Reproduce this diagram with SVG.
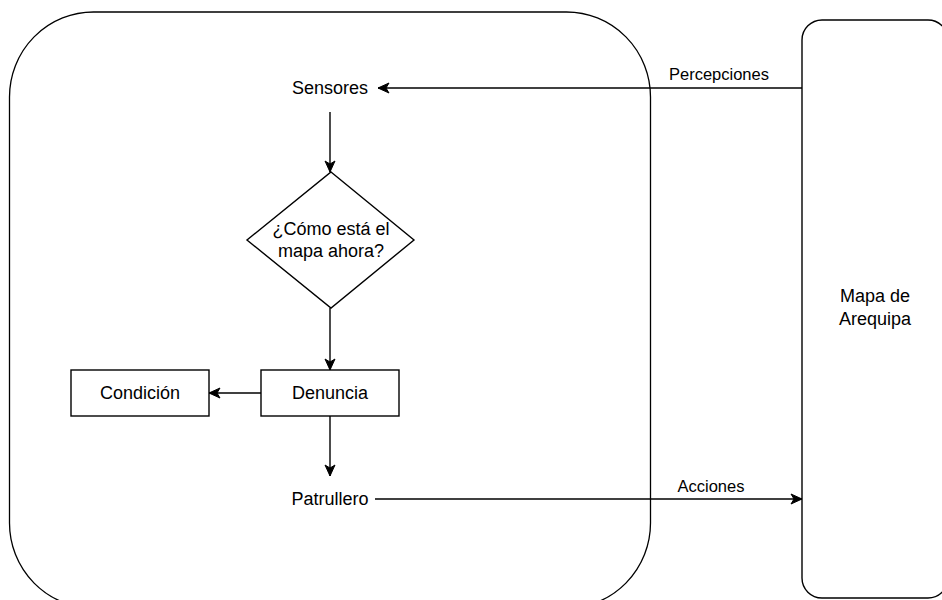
<svg xmlns="http://www.w3.org/2000/svg" width="942" height="600" viewBox="0 0 942 600">
<style>
.shape{fill:#fff;stroke:#000;stroke-width:1.4}
.frame{fill:none;stroke:#000;stroke-width:1.3}
.edge{fill:none;stroke:#000;stroke-width:1.4}
.t{font-family:"Liberation Sans",Arial,sans-serif;font-size:18px;fill:#000;text-anchor:middle}
.lbl{font-family:"Liberation Sans",Arial,sans-serif;font-size:16.5px;fill:#000;text-anchor:middle}
</style>
<defs>
<marker id="arr" markerUnits="userSpaceOnUse" markerWidth="14" markerHeight="14" viewBox="-12 -7 14 14" refX="0" refY="0" orient="auto">
<path d="M0,0 L-11,-5 L-8,0 L-11,5 Z" fill="#000" stroke="#000" stroke-width="1"/>
</marker>
</defs>
<rect width="942" height="600" fill="#fff"/>
<g id="agent">
<rect class="frame" x="9.5" y="12" width="641" height="596" rx="84" ry="85"/>
</g>
<g id="mapa">
<rect class="shape" x="802" y="20" width="146" height="578" rx="20" ry="20"/>
<text class="t" x="875" y="302">Mapa de</text>
<text class="t" x="875" y="325">Arequipa</text>
</g>
<g id="sensores">
<text class="t" x="330" y="94">Sensores</text>
</g>
<g id="decision">
<polygon class="shape" points="331,172 414,240 331,308 247,240"/>
<text class="t" x="331" y="235">¿Cómo está el</text>
<text class="t" x="331" y="257">mapa ahora?</text>
</g>
<g id="denuncia">
<rect class="shape" x="261" y="370" width="138" height="46"/>
<text class="t" x="330" y="399">Denuncia</text>
</g>
<g id="condicion">
<rect class="shape" x="71" y="370" width="138" height="46"/>
<text class="t" x="140" y="399">Condición</text>
</g>
<g id="patrullero">
<text class="t" x="330" y="505">Patrullero</text>
</g>
<g id="connectors">
<line class="edge" x1="802" y1="88" x2="378" y2="88" marker-end="url(#arr)"/>
<text class="lbl" x="719" y="80">Percepciones</text>
<line class="edge" x1="330" y1="112" x2="330" y2="172" marker-end="url(#arr)"/>
<line class="edge" x1="330" y1="308" x2="330" y2="370" marker-end="url(#arr)"/>
<line class="edge" x1="261" y1="393" x2="209" y2="393" marker-end="url(#arr)"/>
<line class="edge" x1="330" y1="416" x2="330" y2="476" marker-end="url(#arr)"/>
<line class="edge" x1="375" y1="499" x2="802" y2="499" marker-end="url(#arr)"/>
<text class="lbl" x="711" y="492">Acciones</text>
</g>
</svg>
